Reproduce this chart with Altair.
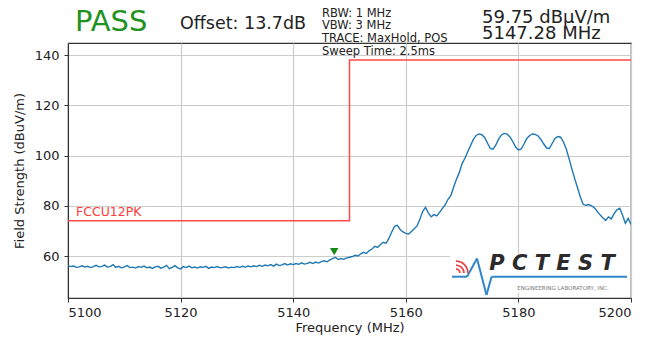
import altair as alt
import pandas as pd

FONT = "DejaVu Sans"

# ---- data -------------------------------------------------------------
FREQ_START = 5100.0
FREQ_STEP = 0.5
level = [
    56.2, 55.8, 56.0, 55.5, 55.7, 56.1, 55.6, 55.9, 55.4, 55.8,
    56.3, 55.7, 55.9, 56.4, 55.6, 55.8, 56.6, 55.5, 55.9, 55.3,
    55.7, 56.2, 55.4, 55.6, 55.2, 55.8, 55.5, 56.0, 55.3, 55.6,
    55.1, 55.7, 55.9, 55.2, 55.6, 56.3, 55.0, 55.5, 56.2, 55.3,
    54.9, 55.8, 55.4, 56.0, 55.3, 55.6, 55.2, 55.7, 55.5, 55.9,
    55.1, 55.6, 55.4, 55.8, 55.3, 55.5, 55.7, 55.2, 55.6, 55.4,
    55.8, 55.5, 55.9, 55.6, 56.0, 55.7, 56.1, 55.8, 56.3, 55.9,
    56.4, 56.1, 56.6, 56.0, 56.8, 56.2, 56.5, 57.0, 56.4, 56.9,
    56.6, 57.0, 56.7, 57.3, 56.8, 57.1, 57.5, 57.0, 57.6, 57.2,
    57.8, 58.1, 57.7, 58.5, 59.0, 59.5, 58.6, 59.0, 58.7, 59.3,
    59.5, 59.8, 60.3, 60.0, 60.9, 61.5, 61.0, 62.2, 62.8, 63.9,
    63.4, 64.6, 65.5, 65.1, 67.0, 69.6, 71.8, 72.2, 70.6, 69.6,
    69.0, 68.8, 69.8, 70.9, 72.0, 74.6, 77.8, 79.4, 77.2, 75.6,
    76.5, 76.0, 77.4, 79.0, 80.4, 82.6, 84.0, 87.5, 90.6, 93.2,
    96.8, 98.9, 101.5, 104.0, 106.4, 108.0, 108.6, 108.3, 107.2, 105.0,
    102.8, 102.5, 104.2, 106.6, 108.2, 108.8, 108.5, 107.4, 105.6, 103.4,
    102.2, 102.6, 104.6, 106.8, 108.0, 108.6, 108.4, 107.8, 106.4, 104.6,
    103.0, 102.8, 104.8, 106.8, 107.6, 107.3, 105.4, 102.6, 98.8, 94.6,
    90.8, 87.2, 83.5, 80.6, 80.2, 80.5, 80.0, 79.2, 77.8, 76.4,
    75.2, 74.2, 75.6, 74.8, 76.9, 78.4, 79.0, 76.2, 73.0, 75.0,
    72.6,
]
freq = [FREQ_START + FREQ_STEP * i for i in range(len(level))]

limit_freq = [5100, 5150, 5150, 5200]
limit_level = [74, 74, 138, 138]
limit_name = ["FCCU12PK"]

marker_freq = [5147.28]
marker_level = [59.75]

x_ticks = [5100, 5120, 5140, 5160, 5180, 5200]
y_ticks = [60, 80, 100, 120, 140]

status_text = ["PASS"]
offset_text = ["Offset: 13.7dB"]
info_lines = ["RBW: 1 MHz", "VBW: 3 MHz", "TRACE: MaxHold, POS", "Sweep Time: 2.5ms"]
readout_lines = ["59.75 dB\u00b5V/m", "5147.28 MHz"]
logo_text = ["P C T E S T"]
logo_tagline = ["ENGINEERING LABORATORY, INC."]

# ---- tables -----------------------------------------------------------
trace = pd.DataFrame({"freq": freq, "level": level})
limit = pd.DataFrame({"freq": limit_freq, "level": limit_level,
                      "order": list(range(len(limit_freq)))})
marker = pd.DataFrame({"freq": marker_freq, "level": marker_level})

W, H = 563, 255
xscale = alt.Scale(domain=[5100, 5200], nice=False, zero=False)
yscale = alt.Scale(domain=[43.3, 144.8], nice=False, zero=False)

x_axis = alt.Axis(values=x_ticks, format="d", title="Frequency (MHz)",
                  titleY=33, titleBaseline="alphabetic", labelPadding=4)
y_axis = alt.Axis(values=y_ticks, format="d", title="Field Strength (dBuV/m)",
                  titleX=-49, titleY=H / 2, titleBaseline="middle",
                  titleAngle=270, labelPadding=5)

base_x = alt.X("freq:Q", scale=xscale, axis=x_axis)
base_y = alt.Y("level:Q", scale=yscale, axis=y_axis)

trace_layer = alt.Chart(trace).mark_line(
    color="#1f77b4", strokeWidth=1.4, clip=True
).encode(x=base_x, y=base_y)

limit_layer = alt.Chart(limit).mark_line(
    color="#ff4a4a", strokeWidth=1.5, clip=True
).encode(x="freq:Q", y="level:Q", order="order:O")

marker_layer = alt.Chart(marker).mark_point(
    shape="triangle-down", filled=True, color="#138a13", opacity=1,
    size=70, yOffset=-5
).encode(x="freq:Q", y="level:Q")

def text_layer(lst, x, y, size, color="#222222", weight="normal",
               style="normal", align="left"):
    return alt.Chart(pd.DataFrame({"t": lst})).mark_text(
        font=FONT, fontSize=size, color=color, fontWeight=weight,
        fontStyle=style, align=align, baseline="alphabetic"
    ).encode(text="t:N", x=alt.value(x), y=alt.value(y))

limit_label = text_layer(limit_name, 8, 173, 12.5, color="#ff3b3b")

header = [
    text_layer(status_text, 7, -12, 29, color="#1f921f"),
    text_layer(offset_text, 112, -14, 17.5),
]
for i, line in enumerate(info_lines):
    header.append(text_layer([line], 254, -26.5 + 12.7 * i, 11.5))
for i, line in enumerate(readout_lines):
    header.append(text_layer([line], 414, -20.5 + 16.2 * i, 18))

# logo (decoration)
logo_df = pd.DataFrame({"t": logo_text})
logo_bg = alt.Chart(logo_df).mark_rect(color="white").encode(
    x=alt.value(382), x2=alt.value(562), y=alt.value(212), y2=alt.value(250))

pulse_color = "#2f86c8"
segments = [
    (384, 233.7, 399, 233.7),
    (399, 233.7, 409, 215.5),
    (409, 215.5, 418.5, 252),
    (418.5, 252, 423.5, 233.7),
    (423.5, 233.7, 559, 233.7),
]
logo_lines = [
    alt.Chart(logo_df).mark_rule(color=pulse_color, strokeWidth=2).encode(
        x=alt.value(a), y=alt.value(b), x2=alt.value(c), y2=alt.value(d))
    for a, b, c, d in segments
]
wifi = [
    alt.Chart(logo_df).mark_arc(
        color="#e84848", theta=0.0, theta2=1.5708,
        innerRadius=r, outerRadius=r + 1.8
    ).encode(x=alt.value(388), y=alt.value(230))
    for r in (3.0, 7.0, 11.0)
]
logo_word = text_layer(logo_text, 484, 227, 21, color="#2b2b2b",
                       weight="bold", style="italic", align="center")
logo_tag = text_layer(logo_tagline, 495, 247, 5.5, color="#777777",
                      align="center")

chart = alt.layer(
    trace_layer, limit_layer, marker_layer, limit_label,
    logo_bg, *logo_lines, *wifi, logo_word, logo_tag, *header
).properties(
    width=W, height=H,
    autosize=alt.AutoSizeParams(type="none"),
    padding={"left": 60, "top": 35, "right": 18, "bottom": 37},
).configure_axis(
    labelFont=FONT, titleFont=FONT, labelFontSize=13, titleFontSize=13,
    titleFontWeight="normal", labelColor="#222222", titleColor="#222222",
    tickColor="#333333", domainColor="#333333", gridColor="#cccccc",
    gridWidth=1.2, tickSize=4, grid=True,
).configure_view(
    stroke="#333333", strokeWidth=1.2
)

chart.save("out.html", embed_options={"renderer": "svg", "actions": False})
